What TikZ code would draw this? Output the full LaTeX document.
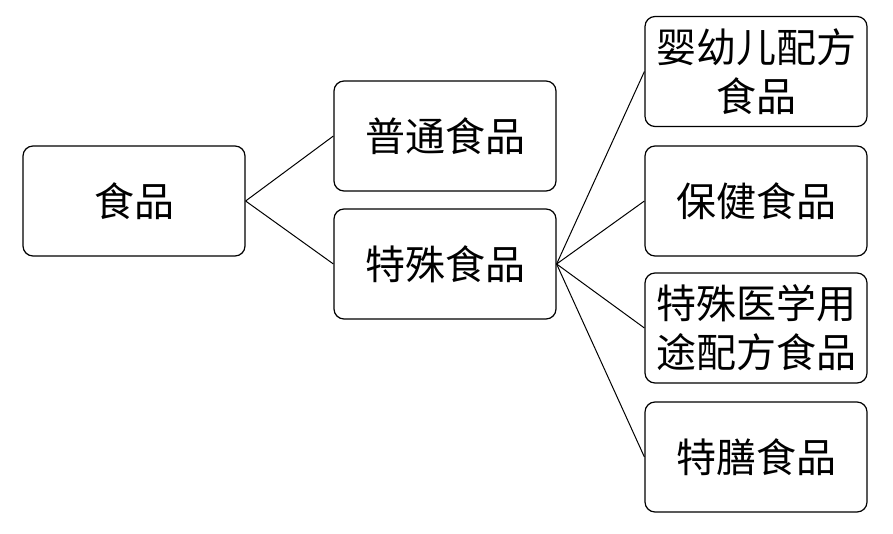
\documentclass[tikz,border=0pt]{standalone}
\usepackage{fontspec}
\setmainfont{Noto Sans CJK SC}
\begin{document}
\begin{tikzpicture}[x=1pt,y=-1pt,
  box/.style={draw=black,line width=1.2pt,rounded corners=10pt,minimum width=222pt,minimum height=110pt,inner sep=0pt,align=center,font=\fontsize{40}{49}\selectfont},
  conn/.style={draw=black,line width=1pt}]
\useasboundingbox (0,0) rectangle (893,534);
\node[box] (a) at (134,201) {食品};
\node[box] (b1) at (445,136) {普通食品};
\node[box] (b2) at (445,264) {特殊食品};
\node[box] (c1) at (756,71.5) {婴幼儿配方\\食品};
\node[box] (c2) at (756,201) {保健食品};
\node[box] (c3) at (756,328) {特殊医学用\\途配方食品};
\node[box] (c4) at (756,457) {特膳食品};
\draw[conn] (a.east) -- (b1.west);
\draw[conn] (a.east) -- (b2.west);
\foreach \n in {c1,c2,c3,c4} \draw[conn] (b2.east) -- (\n.west);
\end{tikzpicture}
\end{document}
